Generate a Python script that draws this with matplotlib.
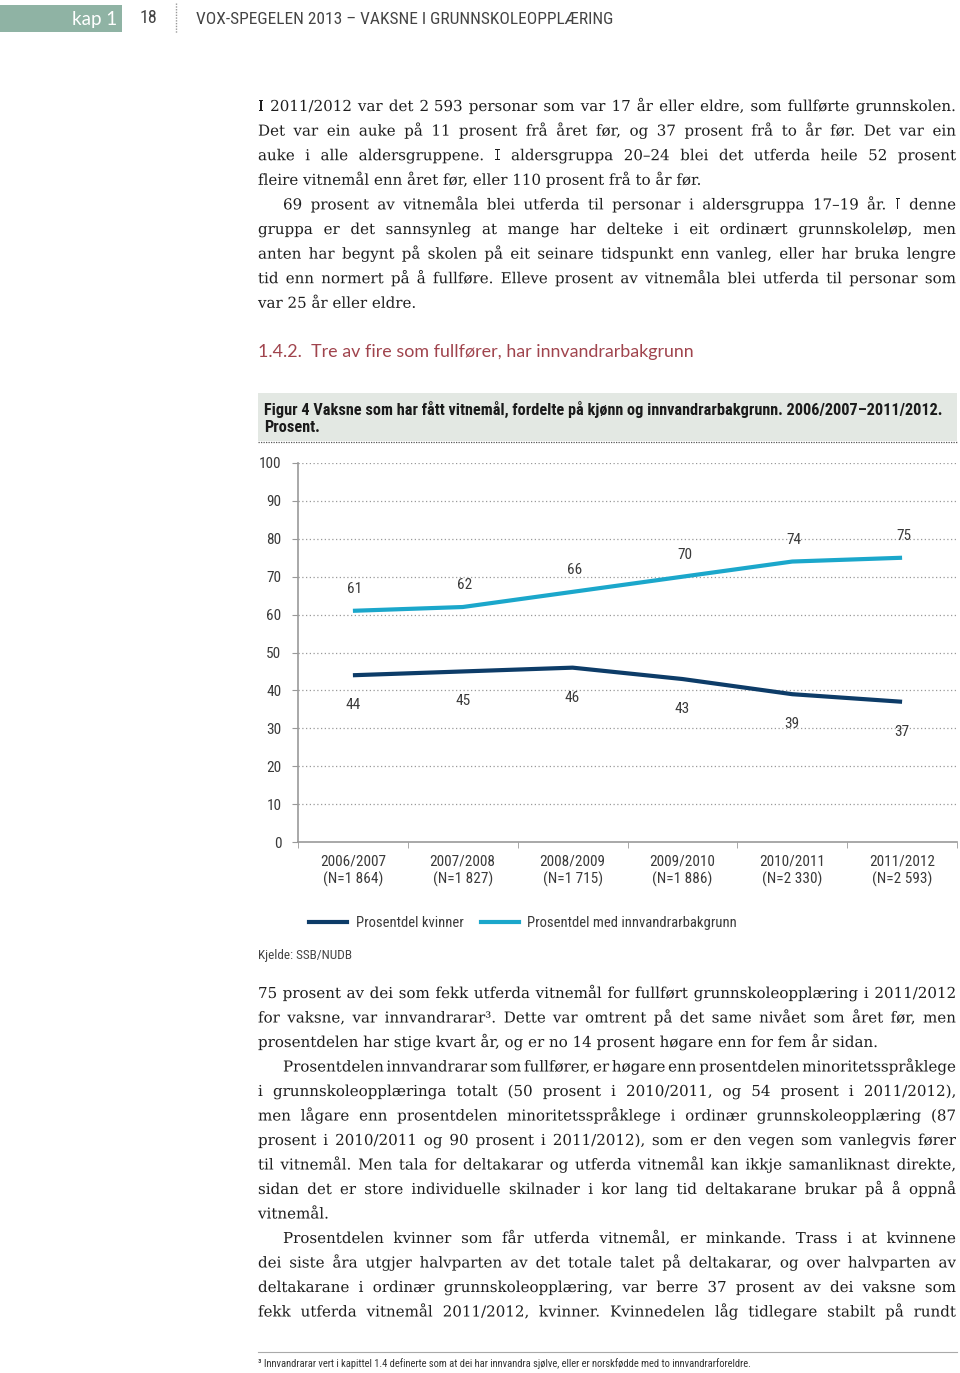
import matplotlib
matplotlib.use('Agg')
import matplotlib.pyplot as plt
from matplotlib import font_manager as fm
from matplotlib import patheffects
from matplotlib.lines import Line2D

# chart data
years = ['2006/2007', '2007/2008', '2008/2009', '2009/2010', '2010/2011', '2011/2012']
n_counts = ['(N=1 864)', '(N=1 827)', '(N=1 715)', '(N=1 886)', '(N=2 330)', '(N=2 593)']
kvinner = [44, 45, 46, 43, 39, 37]
innvandrar = [61, 62, 66, 70, 74, 75]
y_ticks = [0, 10, 20, 30, 40, 50, 60, 70, 80, 90, 100]
series_names = ['Prosentdel kvinner', 'Prosentdel med innvandrarbakgrunn']

# page text
header_title = 'VOX-SPEGELEN 2013 – VAKSNE I GRUNNSKOLEOPPLÆRING'
section_title = '1.4.2.  Tre av fire som fullfører, har innvandrarbakgrunn'
fig_title = ['Figur 4 Vaksne som har fått vitnemål, fordelte på kjønn og innvandrarbakgrunn. 2006/2007–2011/2012.',
             'Prosent.']
source = 'Kjelde: SSB/NUDB'
footnote = '³ Innvandrarar vert i kapittel 1.4 definerte som at dei har innvandra sjølve, eller er norskfødde med to innvandrarforeldre.'

# (text, indented, justified)
para_top = [
    ('I 2011/2012 var det 2\u00a0593 personar som var 17 år eller eldre, som fullførte grunnskolen.', False, True),
    ('Det var ein auke på 11 prosent frå året før, og 37 prosent frå to år før. Det var ein', False, True),
    ('auke i alle aldersgruppene. I aldersgruppa 20–24 blei det utferda heile 52 prosent', False, True),
    ('fleire vitnemål enn året før, eller 110 prosent frå to år før.', False, False),
    ('69 prosent av vitnemåla blei utferda til personar i aldersgruppa 17–19 år. I denne', True, True),
    ('gruppa er det sannsynleg at mange har delteke i eit ordinært grunnskoleløp, men', False, True),
    ('anten har begynt på skolen på eit seinare tidspunkt enn vanleg, eller har bruka lengre', False, True),
    ('tid enn normert på å fullføre. Elleve prosent av vitnemåla blei utferda til personar som', False, True),
    ('var 25 år eller eldre.', False, False),
]
para_bottom = [
    ('75 prosent av dei som fekk utferda vitnemål for fullført grunnskoleopplæring i 2011/2012', False, True),
    ('for vaksne, var innvandrarar³. Dette var omtrent på det same nivået som året før, men', False, True),
    ('prosentdelen har stige kvart år, og er no 14 prosent høgare enn for fem år sidan.', False, False),
    ('Prosentdelen innvandrarar som fullfører, er høgare enn prosentdelen minoritetsspråklege', True, True),
    ('i grunnskoleopplæringa totalt (50 prosent i 2010/2011, og 54 prosent i 2011/2012),', False, True),
    ('men lågare enn prosentdelen minoritetsspråklege i ordinær grunnskoleopplæring (87', False, True),
    ('prosent i 2010/2011 og 90 prosent i 2011/2012), som er den vegen som vanlegvis fører', False, True),
    ('til vitnemål. Men tala for deltakarar og utferda vitnemål kan ikkje samanliknast direkte,', False, True),
    ('sidan det er store individuelle skilnader i kor lang tid deltakarane brukar på å oppnå', False, True),
    ('vitnemål.', False, False),
    ('Prosentdelen kvinner som får utferda vitnemål, er minkande. Trass i at kvinnene', True, True),
    ('dei siste åra utgjer halvparten av det totale talet på deltakarar, og over halvparten av', False, True),
    ('deltakarane i ordinær grunnskoleopplæring, var berre 37 prosent av dei vaksne som', False, True),
    ('fekk utferda vitnemål 2011/2012, kvinner. Kvinnedelen låg tidlegare stabilt på rundt', False, True),
]

avail = {f.name for f in fm.fontManager.ttflist}
def pick(*names):
    for n in names:
        if n in avail:
            return n
    return 'DejaVu Sans'

narrow = pick('Liberation Sans Narrow', 'Roboto Condensed', 'Roboto')
humanist = pick('Lato', 'Open Sans', 'Noto Sans')
serif = pick('DejaVu Serif', 'Liberation Serif')

NAVY = '#0d3c68'
CYAN = '#1ba7cb'
GREY = '#3a3a3a'

fig = plt.figure(figsize=(9.6, 13.73), dpi=100)
page = fig.add_axes([0, 0, 1, 1])
page.set_xlim(0, 960)
page.set_ylim(1373, 0)
page.axis('off')
renderer = fig.canvas.get_renderer()

# header
page.add_patch(plt.Rectangle((0, 5), 122, 27, color='#8fb3a4', lw=0))
page.text(117, 19, 'kap 1', color='white', ha='right', va='center', fontsize=13.5, family=humanist)
page.text(140, 18, '18', color='#444', ha='left', va='center', fontsize=13, family=narrow)
page.plot([176, 176], [3, 33], color='#999', lw=1, ls=(0, (1, 1)))
page.text(196, 19, header_title, color='#444', ha='left', va='center', fontsize=12.5, family=narrow)

# justified body text, word by word (drawn as paths so baselines line up)
def put_lines(lines, y0, step):
    x0, x1, indent = 258, 956, 25
    for i, (line, ind, just) in enumerate(lines):
        yb = y0 + i * step
        xs = x0 + (indent if ind else 0)
        kw = dict(fontsize=10.85, family=serif, color='#1e1e1e', va='baseline', ha='left',
                  path_effects=[patheffects.Normal()])
        if not just:
            page.text(xs, yb, line, **kw)
            continue
        words = line.split(' ')
        objs = [page.text(xs, yb, w, **kw) for w in words]
        widths = [o.get_window_extent(renderer).width for o in objs]
        gap = max((x1 - xs - sum(widths)) / (len(words) - 1), 2)
        x = xs
        for o, w in zip(objs, widths):
            o.set_x(x)
            x += w + gap

put_lines(para_top, 111, 24.6)
put_lines(para_bottom, 998, 24.5)

page.text(258, 352, section_title, color='#a0444d', ha='left', va='center', fontsize=12.9,
          family=humanist)

# figure title box
page.add_patch(plt.Rectangle((258, 393), 699, 48, color='#e3e8e3', lw=0))
page.plot([258, 957], [442, 442], color='#555', lw=0.9, ls=(0, (1, 1)))
for i, t in enumerate(fig_title):
    page.text(264, 409 + i * 19, t, color='#1a1a1a', ha='left', va='center',
              fontsize=11.7, family=narrow, weight='bold')

page.text(258, 956, source, color='#444', ha='left', va='center', fontsize=9.5, family=narrow)
page.plot([258, 957], [1352, 1352], color='#aaa', lw=0.8)
page.text(258, 1364, footnote, color='#333', ha='left', va='center', fontsize=7.6, family=narrow)

# chart
ax = fig.add_axes([298 / 960, 1 - 842 / 1373, 659 / 960, 379 / 1373])
x = list(range(len(years)))
ax.plot(x, kvinner, color=NAVY, lw=3, solid_capstyle='butt', label=series_names[0])
ax.plot(x, innvandrar, color=CYAN, lw=3, solid_capstyle='butt', label=series_names[1])
for xi, v in zip(x, kvinner):
    ax.annotate(str(v), (xi, v), xytext=(0, -30), textcoords='offset pixels',
                ha='center', va='center', fontsize=11, color=GREY, family=narrow)
for xi, v in zip(x, innvandrar):
    ax.annotate(str(v), (xi, v), xytext=(2, 22), textcoords='offset pixels',
                ha='center', va='center', fontsize=11, color=GREY, family=narrow)

ax.set_xlim(-0.5, len(years) - 0.5)
ax.set_ylim(0, 100)
ax.set_yticks(y_ticks)
ax.set_yticklabels([str(t) for t in y_ticks], fontsize=11, color=GREY, family=narrow)
ax.set_xticks(x)
ax.set_xticklabels([f'{a}\n{b}' for a, b in zip(years, n_counts)], fontsize=11, color=GREY,
                   family=narrow, linespacing=1.25)
ax.set_xticks([i - 0.5 for i in range(len(years) + 1)], minor=True)
ax.tick_params(axis='x', which='major', length=0, pad=9)
ax.tick_params(axis='x', which='minor', length=4, color='#999', direction='out')
ax.tick_params(axis='y', length=4, color='#999', pad=8)
for yt in y_ticks[1:]:
    ax.axhline(yt, color='#999', lw=0.9, ls=(0, (1, 2)), zorder=0)
for s in ['top', 'right']:
    ax.spines[s].set_visible(False)
for s in ['left', 'bottom']:
    ax.spines[s].set_color('#999')
    ax.spines[s].set_linewidth(1.2)

leg = fig.legend(handles=[Line2D([], [], color=NAVY, lw=3), Line2D([], [], color=CYAN, lw=3)],
                 labels=series_names, loc='center', ncol=2, frameon=False,
                 bbox_to_anchor=(523 / 960, 1 - 923 / 1373), handlelength=2.6,
                 columnspacing=1.2, handletextpad=0.6,
                 prop={'family': narrow, 'size': 10.5})
for t in leg.get_texts():
    t.set_color(GREY)

fig.savefig('out.png', dpi=100)
